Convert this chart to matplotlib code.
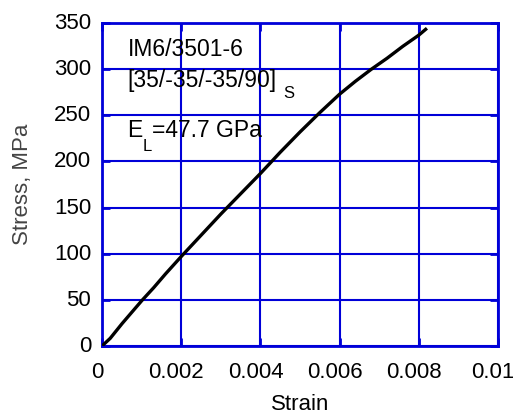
import matplotlib
matplotlib.use("Agg")
import matplotlib.pyplot as plt
import matplotlib.transforms as mtrans

plt.rcParams['font.family'] = ['Liberation Sans', 'DejaVu Sans']

strain = [0.0, 0.0002, 0.0005, 0.0008, 0.0010, 0.0013, 0.0016, 0.0020, 0.0025, 0.0030,
          0.0035, 0.0040, 0.0045, 0.0050, 0.0055, 0.0060, 0.0064, 0.0068,
          0.0072, 0.0076, 0.0080, 0.00821]
stress = [0.0, 8, 24, 39, 49, 63, 78, 97, 120, 143,
          165, 187, 210, 232, 253, 273, 287, 300,
          312, 325, 337, 344.6]

xticks = [0, 0.002, 0.004, 0.006, 0.008, 0.01]
xticklabels = ['0', '0.002', '0.004', '0.006', '0.008', '0.01']
yticks = [0, 50, 100, 150, 200, 250, 300, 350]

W, H = 513, 418
fig = plt.figure(figsize=(W/100, H/100), dpi=100)
L, R, T, B = 102.3, 497.7, 23.3, 345.7
ax = fig.add_axes([L/W, 1 - B/H, (R-L)/W, (B-T)/H])

blue = '#0000d8'
ax.plot(strain, stress, color='black', lw=2.4, solid_capstyle='butt', zorder=3)
ax.set_xlim(0, 0.01)
ax.set_ylim(0, 350)
ax.set_xticks(xticks)
ax.set_xticklabels(xticklabels)
ax.set_yticks(yticks)
ax.grid(True, color=blue, lw=1.5)
for s in ax.spines.values():
    s.set_color(blue)
    s.set_linewidth(2)
ax.tick_params(direction='in', length=6, width=2, color=blue, labelsize=16,
               top=True, right=True, pad=8)
ax.tick_params(axis='x', pad=12)
for lab in ax.get_xticklabels():
    lab.set_transform(lab.get_transform() + mtrans.ScaledTranslation(-5/100, 0, fig.dpi_scale_trans))
for lab in ax.get_yticklabels():
    lab.set_transform(lab.get_transform() + mtrans.ScaledTranslation(0, 2/100, fig.dpi_scale_trans))

ax.set_xlabel('Strain', fontsize=16, labelpad=8)
ax.set_ylabel('Stress, MPa', fontsize=16, color='#444444', labelpad=15)

def px(x, y):
    return ((x - L) / (R - L), (B - y) / (B - T))

fs = 16.5
ax.text(*px(128, 56), 'IM6/3501-6', transform=ax.transAxes, fontsize=fs, va='baseline', ha='left')
ax.text(*px(127.5, 87.3), '[35/-35/-35/90]', transform=ax.transAxes, fontsize=fs, va='baseline', ha='left')
ax.text(*px(283, 98.3), 'S', transform=ax.transAxes, fontsize=12, va='baseline', ha='left')
ax.text(*px(127.5, 137.3), 'E', transform=ax.transAxes, fontsize=fs, va='baseline', ha='left')
ax.text(*px(143, 151), 'L', transform=ax.transAxes, fontsize=12, va='baseline', ha='left')
ax.text(*px(151.5, 137.3), '=47.7 GPa', transform=ax.transAxes, fontsize=fs, va='baseline', ha='left')

fig.savefig('out.png', dpi=100)
